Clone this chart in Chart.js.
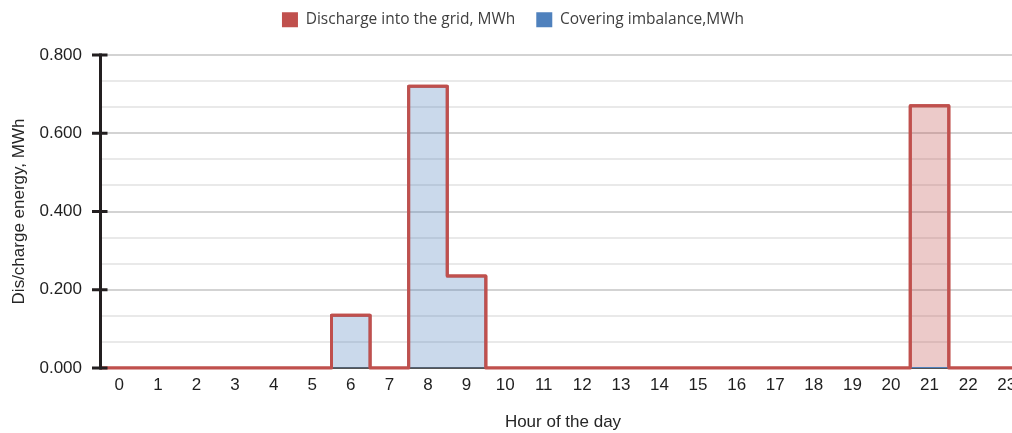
<!DOCTYPE html>
<html>
<head>
<meta charset="utf-8">
<script src="https://cdn.jsdelivr.net/npm/chart.js@4.4.1/dist/chart.umd.min.js"></script>
<style>
  html, body { margin: 0; padding: 0; background: #fff; overflow: hidden; }
  /* the plot runs a little past the right edge of the window */
  #wrap { position: relative; width: 1026px; height: 433px; }
</style>
</head>
<body>
<div id="wrap"><canvas id="energyChart"></canvas></div>
<script>
// Hours of the day (x categories)
const hours = [0, 1, 2, 3, 4, 5, 6, 7, 8, 9, 10, 11, 12, 13, 14, 15, 16, 17, 18, 19, 20, 21, 22, 23];

// Energy per hour, MWh
const dischargeMWh = [0, 0, 0, 0, 0, 0, 0, 0, 0, 0, 0, 0, 0, 0, 0, 0, 0, 0, 0, 0, 0, 0.67, 0, 0];
const imbalanceMWh = [0, 0, 0, 0, 0, 0, 0.135, 0, 0.72, 0.235, 0, 0, 0, 0, 0, 0, 0, 0, 0, 0, 0, 0, 0, 0];

// Labelled y ticks; each interval is split into thirds by lighter grid lines
const yMajorTicks = [0, 0.2, 0.4, 0.6, 0.8];
const yMinorPerMajor = 3;

const seriesNames = ['Covering imbalance,MWh', 'Discharge into the grid, MWh'];

const RED = '#c0504d';
const BLUE = '#4f81bd';

// Each hour is a block from h-0.5 to h+0.5
function hourBlocks(values) {
  const pts = hours.map((h, i) => ({ x: h - 0.5, y: values[i] }));
  pts.push({ x: hours[hours.length - 1] + 0.5, y: values[values.length - 1] });
  return pts;
}

const yGridValues = [];
for (let i = 0; i < yMajorTicks.length - 1; i++) {
  const a = yMajorTicks[i], b = yMajorTicks[i + 1];
  for (let k = 0; k < yMinorPerMajor; k++) yGridValues.push(a + (b - a) * k / yMinorPerMajor);
}
yGridValues.push(yMajorTicks[yMajorTicks.length - 1]);

Chart.defaults.font.family = '"Liberation Sans", Arial, sans-serif';
Chart.defaults.font.size = 17;
Chart.defaults.color = '#1f1f1f';

// Draws the red outline above the blue fill, then the y axis line with its crossing ticks
const axisOverlay = {
  id: 'axisOverlay',
  afterDatasetsDraw(chart) {
    const { ctx, chartArea, scales: { y } } = chart;
    const meta = chart.getDatasetMeta(1);
    ctx.save();
    ctx.beginPath();
    ctx.rect(chartArea.left, chartArea.top - 4, chartArea.right - chartArea.left + 4, chartArea.bottom - chartArea.top + 6);
    ctx.clip();
    meta.dataset.draw(ctx, chartArea);
    ctx.restore();

    const x0 = chartArea.left + 0.5;
    ctx.save();
    ctx.strokeStyle = '#231f20';
    ctx.lineWidth = 3;
    ctx.lineCap = 'butt';
    ctx.beginPath();
    ctx.moveTo(x0, y.getPixelForValue(yMajorTicks[yMajorTicks.length - 1]) - 1.5);
    ctx.lineTo(x0, y.getPixelForValue(yMajorTicks[0]) + 1.5);
    ctx.stroke();
    ctx.beginPath();
    yMajorTicks.forEach(v => {
      const py = y.getPixelForValue(v);
      ctx.moveTo(x0 - 8.5, py);
      ctx.lineTo(x0 + 7, py);
    });
    ctx.stroke();
    ctx.restore();
  }
};

// Keeps the legend band a fixed height above the plot
const legendBand = {
  id: 'legendBand',
  beforeInit(chart) {
    const fit = chart.legend.fit;
    chart.legend.fit = function () {
      fit.call(this);
      this.height = 64;
    };
  }
};

new Chart(document.getElementById('energyChart'), {
  type: 'line',
  data: {
    datasets: [
      {
        label: seriesNames[0],
        data: hourBlocks(imbalanceMWh),
        stepped: 'before',
        borderColor: BLUE,
        backgroundColor: 'rgba(79,129,189,0.3)',
        borderWidth: 2,
        pointRadius: 0,
        fill: 'origin'
      },
      {
        label: seriesNames[1],
        data: hourBlocks(dischargeMWh),
        stepped: 'before',
        borderColor: RED,
        backgroundColor: 'rgba(192,80,77,0.3)',
        borderWidth: 3,
        borderJoinStyle: 'round',
        pointRadius: 0,
        fill: '-1'
      }
    ]
  },
  options: {
    responsive: true,
    maintainAspectRatio: false,
    animation: false,
    layout: { padding: { top: -9, right: 0, left: 0, bottom: 0 } },
    plugins: {
      tooltip: { enabled: false },
      legend: {
        position: 'top',
        align: 'center',
        labels: {
          boxWidth: 16,
          boxHeight: 15,
          padding: 21,
          color: '#404040',
          font: { family: '"Open Sans", "Noto Sans", sans-serif', size: 15.5 },
          sort: (a, b) => b.datasetIndex - a.datasetIndex,
          generateLabels(chart) {
            const items = Chart.defaults.plugins.legend.labels.generateLabels(chart);
            items.forEach(it => {
              const ds = chart.data.datasets[it.datasetIndex];
              it.fillStyle = ds.borderColor;
              it.strokeStyle = ds.borderColor;
              it.lineWidth = 0;
            });
            return items;
          }
        }
      }
    },
    scales: {
      x: {
        type: 'linear',
        min: hours[0] - 0.5,
        max: hours[hours.length - 1] + 0.5,
        afterBuildTicks(scale) {
          scale.ticks = hours.map(h => ({ value: h }));
        },
        afterFit(scale) {
          scale.height = 65;
          scale.paddingLeft = 0;
          scale.paddingRight = 0;
        },
        grid: { display: false, drawTicks: false },
        border: { display: true, color: '#555555', width: 2 },
        ticks: {
          padding: 7,
          color: '#1f1f1f',
          autoSkip: false,
          maxRotation: 0,
          callback: v => String(v)
        },
        title: {
          display: true,
          text: 'Hour of the day',
          color: '#262626',
          padding: { top: 4, bottom: 0 }
        }
      },
      y: {
        stacked: true,
        min: yMajorTicks[0],
        max: yMajorTicks[yMajorTicks.length - 1],
        afterBuildTicks(scale) {
          scale.ticks = yGridValues.map(v => ({ value: v }));
        },
        afterFit(scale) {
          scale.width = 100;
          scale.paddingTop = 0;
          scale.paddingBottom = 0;
        },
        grid: {
          drawTicks: false,
          tickLength: 0,
          lineWidth: 2,
          color: ctx => (ctx.index % yMinorPerMajor === 0 ? '#d3d3d3' : '#e9e9e9')
        },
        border: { display: false },
        ticks: {
          padding: 18,
          color: '#1f1f1f',
          autoSkip: false,
          callback: (v, i) => (i % yMinorPerMajor === 0 ? v.toFixed(3) : '')
        },
        title: {
          display: true,
          text: 'Dis/charge energy, MWh',
          color: '#262626',
          padding: { top: 9, bottom: 0 }
        }
      }
    }
  },
  plugins: [legendBand, axisOverlay]
});
</script>
</body>
</html>
